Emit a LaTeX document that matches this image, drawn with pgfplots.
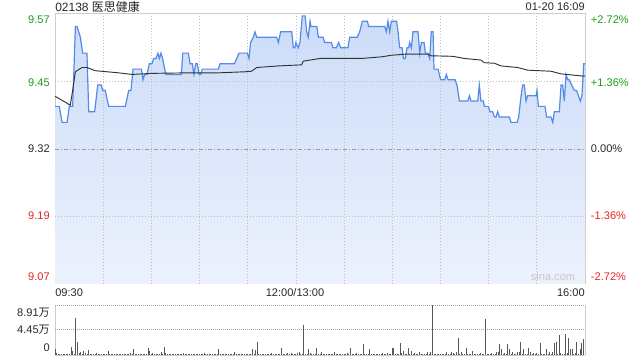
\documentclass[border=0pt]{standalone}
\usepackage{pgfplots}
\usepackage{pgfplotstable}
\pgfplotsset{compat=1.18}
\usepackage{fontspec}
\setmainfont{Liberation Sans}
\newfontfamily\cjk{Noto Sans CJK SC}
\definecolor{upgreen}{RGB}{26,160,26}
\definecolor{downred}{RGB}{232,36,36}
\definecolor{lineblue}{RGB}{84,139,232}
\definecolor{filltop}{RGB}{204,220,248}
\definecolor{fillbot}{RGB}{236,242,253}
\definecolor{framegray}{RGB}{204,204,204}
\definecolor{gridgray}{RGB}{190,190,190}
\definecolor{avgline}{RGB}{50,50,50}
\definecolor{volbar}{RGB}{88,88,88}
\definecolor{labgray}{RGB}{40,40,40}

\pgfplotstableread{
m p
0 9.40
2.7 9.40
4.4 9.37
7.5 9.37
8.9 9.40
11.0 9.40
12.7 9.55
13.7 9.55
15.8 9.53
17.2 9.50
19.9 9.50
21.0 9.39
24.7 9.39
26.6 9.44
28.8 9.44
29.7 9.43
31.3 9.43
33.4 9.40
43.8 9.40
45.9 9.43
47.3 9.43
48.6 9.47
53.8 9.47
54.8 9.45
55.8 9.46
57.3 9.46
58.7 9.48
60.4 9.48
61.4 9.49
62.9 9.49
64.1 9.50
65.0 9.49
66.0 9.50
67.0 9.49
68.3 9.47
69.1 9.46
78.7 9.46
79.5 9.50
83.0 9.50
84.1 9.48
85.5 9.48
86.5 9.46
87.6 9.48
88.6 9.48
89.7 9.46
90.7 9.46
91.7 9.47
101.7 9.47
102.7 9.48
111.7 9.48
113.1 9.49
114.6 9.50
119.8 9.50
120.8 9.49
121.8 9.52
123.5 9.53
124.5 9.54
125.6 9.53
138.0 9.53
139.1 9.52
140.5 9.54
147.4 9.54
148.4 9.51
149.4 9.51
150.0 9.52
151.5 9.51
152.5 9.52
154.0 9.57
155.7 9.57
156.7 9.54
157.7 9.53
158.8 9.56
159.4 9.55
163.0 9.55
164.0 9.53
166.9 9.53
167.9 9.52
172.1 9.52
173.1 9.51
175.2 9.51
176.6 9.52
177.9 9.51
182.4 9.51
183.5 9.53
188.2 9.53
189.7 9.54
191.4 9.56
194.5 9.56
195.3 9.55
205.3 9.55
206.3 9.54
207.3 9.56
208.4 9.54
209.4 9.56
212.7 9.56
213.6 9.54
214.6 9.51
216.1 9.51
216.9 9.49
218.1 9.49
219.2 9.51
220.2 9.51
220.8 9.52
221.9 9.51
222.9 9.54
226.0 9.54
227.1 9.50
228.1 9.52
229.8 9.52
230.6 9.50
232.2 9.50
233.3 9.49
234.3 9.54
235.4 9.54
236.0 9.47
238.5 9.47
240.1 9.45
242.6 9.45
243.7 9.46
244.7 9.45
249.1 9.45
250.3 9.44
251.8 9.41
257.0 9.41
258.0 9.42
259.0 9.41
263.2 9.41
264.2 9.44
265.2 9.41
266.7 9.41
267.3 9.40
269.8 9.40
270.9 9.39
272.5 9.39
273.6 9.38
274.6 9.38
275.6 9.39
276.7 9.38
282.9 9.38
283.9 9.37
287.7 9.37
288.7 9.38
290.2 9.42
291.2 9.44
292.2 9.44
293.3 9.41
294.3 9.42
299.5 9.42
300.1 9.43
301.0 9.40
305.1 9.40
306.1 9.38
308.8 9.38
309.9 9.37
310.9 9.39
314.0 9.39
315.1 9.44
316.1 9.44
317.1 9.41
318.2 9.46
319.2 9.45
320.2 9.45
321.7 9.44
323.4 9.43
324.8 9.43
325.9 9.42
327.1 9.41
328.1 9.42
329.2 9.48
330 9.48
}\pricetab

\pgfplotstableread{
m a
0 9.419
6.4 9.408
9.5 9.402
11.0 9.430
12.7 9.465
16.8 9.473
19.9 9.473
25.1 9.467
32.4 9.465
39.6 9.463
47.9 9.460
60.4 9.462
82.2 9.463
101.7 9.463
118.3 9.465
122.4 9.466
125.6 9.473
139.1 9.476
153.6 9.478
154.6 9.485
165.0 9.490
190.7 9.490
203.2 9.493
209.4 9.496
217.7 9.498
232.2 9.498
234.3 9.495
247.8 9.494
254.9 9.490
265.2 9.487
267.3 9.482
273.6 9.481
277.7 9.476
288.1 9.473
294.3 9.468
308.8 9.466
315.1 9.461
328.5 9.457
330 9.457
}\avgtab

\begin{document}
\begin{tikzpicture}
\path[use as bounding box] (0pt,0pt) rectangle (480pt,270pt);
% ---------------- price panel ----------------
\begin{axis}[
  at={(41.25pt,57pt)}, anchor=south west,
  width=397.5pt, height=202.5pt, scale only axis,
  xmin=0, xmax=330, ymin=0, ymax=0.507,
  xtick=\empty, ytick=\empty,
  axis line style={draw=framegray, line width=0.75pt},
  clip mode=individual,
]
\addplot[draw=none, top color=filltop, bottom color=fillbot]
  table[x=m, y expr=\thisrow{p}-9.0665] {\pricetab} \closedcycle;
\pgfplotsinvokeforeach{30,60,...,300}{
  \draw[gridgray, line width=0.6pt, dash pattern=on 0.75pt off 1.5pt] (axis cs:#1,0) -- (axis cs:#1,0.507);
}
\draw[gridgray, line width=0.6pt, dash pattern=on 0.75pt off 1.5pt] (axis cs:0,0.3803) -- (axis cs:330,0.3803);
\draw[gridgray, line width=0.6pt, dash pattern=on 0.75pt off 1.5pt] (axis cs:0,0.1267) -- (axis cs:330,0.1267);
\draw[gray!80, line width=0.6pt, dash pattern=on 3pt off 1.5pt on 0.75pt off 1.5pt] (axis cs:0,0.2535) -- (axis cs:330,0.2535);
\addplot[lineblue, line width=0.9pt, mark=none, sharp plot]
  table[x=m, y expr=\thisrow{p}-9.0665] {\pricetab};
\addplot[avgline, line width=0.7pt, mark=none, sharp plot]
  table[x=m, y expr=\thisrow{a}-9.0665] {\avgtab};
\end{axis}
% ---------------- volume panel ----------------
\begin{axis}[
  at={(41.25pt,3.75pt)}, anchor=south west,
  width=397.5pt, height=37.5pt, scale only axis,
  xmin=0, xmax=330, ymin=0, ymax=89100,
  xtick=\empty, ytick=\empty,
  axis lines=none,
  clip=false,
]
\draw[framegray, line width=0.75pt] (rel axis cs:0,0) -- (rel axis cs:0,1);
\draw[framegray, line width=0.75pt] (rel axis cs:1,0) -- (rel axis cs:1,1);
\draw[framegray, line width=0.6pt] (rel axis cs:0,0) -- (rel axis cs:1,0);
\draw[gray!70, line width=0.75pt, dash pattern=on 0.75pt off 0.75pt] (rel axis cs:0,1) -- (rel axis cs:1,1);
\draw[gray!70, line width=0.75pt, dash pattern=on 0.75pt off 0.75pt] (rel axis cs:0,0.5) -- (rel axis cs:1,0.5);
\addplot[ycomb, volbar, line width=0.75pt, mark=none] coordinates {
(0,10100) (1,3000) (2,1200) (3,900) (4,1500) (5,1200) (6,900) (7,1500) (8,1200) (9,1800)
(10,14850) (11,7100) (12,1800) (13,65300) (14,22600) (15,3000) (16,4750) (17,1500) (18,7100) (19,3000)
(20,1200) (21,8300) (22,1500) (23,2400) (24,1200) (25,1800) (26,3000) (27,1200) (28,1500) (29,1800)
(30,1200) (31,900) (32,1500) (33,7100) (34,1200) (35,1500) (36,900) (37,1200) (38,1500) (39,1200)
(40,900) (41,1500) (42,1200) (43,1800) (44,1200) (45,1500) (46,1200) (47,3000) (48,1500) (49,10100)
(50,1200) (51,1500) (52,1200) (53,1800) (54,1200) (55,1500) (56,1200) (57,1500) (58,11900) (59,7100)
(60,1800) (61,4150) (62,1500) (63,2400) (64,1200) (65,1500) (66,4750) (67,1800) (68,13700) (69,3000)
(70,1500) (71,1200) (72,1500) (73,900) (74,1200) (75,1500) (76,1200) (77,1800) (78,1200) (79,1500)
(80,3000) (81,1200) (82,1500) (83,1200) (84,900) (85,1500) (86,1200) (87,1500) (88,1200) (89,1800)
(90,1200) (91,1500) (92,1800) (93,3000) (94,1200) (95,1500) (96,2400) (97,1200) (98,1500) (99,1200)
(100,1800) (101,1500) (102,10100) (103,1800) (104,1500) (105,1200) (106,1800) (107,1500) (108,2400) (109,1200)
(110,1500) (111,1800) (112,4750) (113,2400) (114,1500) (115,1200) (116,1500) (117,1800) (118,1200) (119,1500)
(120,1800) (121,1500) (122,2400) (123,10100) (124,1500) (125,8900) (126,22600) (127,1500) (128,1200) (129,1800)
(130,1500) (131,2400) (132,1200) (133,1500) (134,1800) (135,4150) (136,1500) (137,1200) (138,1800) (139,2400)
(140,1500) (141,11900) (142,1200) (143,1500) (144,1800) (145,3000) (146,1500) (147,4150) (148,1800) (149,1500)
(150,2400) (151,3000) (152,5900) (153,1500) (154,2400) (155,53500) (156,1800) (157,1500) (158,10100) (159,3000)
(160,1500) (161,2400) (162,1200) (163,11900) (164,1500) (165,2400) (166,4750) (167,1500) (168,1200) (169,1800)
(170,1500) (171,1200) (172,1800) (173,1500) (174,4750) (175,1500) (176,1200) (177,1800) (178,1500) (179,1200)
(180,1500) (181,1800) (182,4150) (183,1500) (184,11900) (185,1200) (186,1500) (187,1800) (188,3000) (189,1500)
(190,1200) (191,1800) (192,19000) (193,1500) (194,1200) (195,1800) (196,10100) (197,1500) (198,1200) (199,1500)
(200,1800) (201,1200) (202,1500) (203,1800) (204,3000) (205,1500) (206,1800) (207,3000) (208,1500) (209,2400)
(210,11900) (211,11900) (212,1500) (213,1800) (214,2400) (215,20800) (216,3000) (217,7700) (218,1800) (219,2400)
(220,13100) (221,1500) (222,7700) (223,1800) (224,3000) (225,1500) (226,1800) (227,4750) (228,1500) (229,1800)
(230,1800) (231,2400) (232,5900) (233,1800) (234,5900) (235,89100) (236,1500) (237,1800) (238,1500) (239,1200)
(240,1800) (241,1500) (242,2400) (243,1500) (244,4750) (245,1800) (246,1500) (247,4750) (248,3000) (249,1500)
(250,4750) (251,30900) (252,1800) (253,5900) (254,1500) (255,2400) (256,13100) (257,1800) (258,2400) (259,1500)
(260,7700) (261,1800) (262,1500) (263,1200) (264,1800) (265,3000) (266,1500) (267,1800) (268,63600) (269,1500)
(270,1800) (271,1500) (272,3000) (273,1800) (274,2400) (275,4750) (276,5900) (277,19000) (278,10100) (279,1800)
(280,3000) (281,2400) (282,19000) (283,10100) (284,1800) (285,4750) (286,1500) (287,2400) (288,4750) (289,4750)
(290,23800) (291,2400) (292,10100) (293,1800) (294,2400) (295,11900) (296,5900) (297,1800) (298,3000) (299,1500)
(300,4150) (301,2400) (302,20800) (303,1800) (304,1500) (305,2400) (306,10100) (307,1800) (308,4750) (309,2400)
(310,4750) (311,20800) (312,22600) (313,2400) (314,35600) (315,3000) (316,1800) (317,2400) (318,36800) (319,3000)
(320,29700) (321,10100) (322,10100) (323,2400) (324,3000) (325,22600) (326,2400) (327,10100) (328,20800) (329,28500)
};
\end{axis}
% ---------------- texts ----------------
\begin{scope}[every node/.style={font=\fontsize{8.3}{10}\selectfont, inner sep=0pt}]
\node[anchor=west, text=labgray, font=\fontsize{9}{10}\selectfont] at (41.25pt,264.75pt) {02138 {\cjk 医思健康}};
\node[anchor=east, text=labgray] at (438.75pt,264.75pt) {01-20 16:09};
\node[anchor=east, text=upgreen] at (37.5pt,255pt) {9.57};
\node[anchor=east, text=upgreen] at (37.5pt,207.75pt) {9.45};
\node[anchor=east, text=labgray] at (37.5pt,158.25pt) {9.32};
\node[anchor=east, text=downred] at (37.5pt,108pt) {9.19};
\node[anchor=east, text=downred] at (37.5pt,62.25pt) {9.07};
\node[anchor=west, text=upgreen] at (443pt,255pt) {+2.72\%};
\node[anchor=west, text=upgreen] at (443pt,207.75pt) {+1.36\%};
\node[anchor=west, text=labgray] at (443pt,158.25pt) {0.00\%};
\node[anchor=west, text=downred] at (443pt,108pt) {-1.36\%};
\node[anchor=west, text=downred] at (443pt,62.25pt) {-2.72\%};
\node[anchor=center, text=gray!45] at (414.75pt,62.25pt) {sina.com};
\node[anchor=west, text=labgray] at (41.25pt,50.25pt) {09:30};
\node[anchor=center, text=labgray] at (221.25pt,50.25pt) {12:00/13:00};
\node[anchor=east, text=labgray] at (438.75pt,50.25pt) {16:00};
\node[anchor=east, text=labgray] at (37.5pt,35.25pt) {8.91{\cjk 万}};
\node[anchor=east, text=labgray] at (37.5pt,22.5pt) {4.45{\cjk 万}};
\node[anchor=east, text=labgray] at (37.5pt,9pt) {0};
\end{scope}
\end{tikzpicture}
\end{document}
